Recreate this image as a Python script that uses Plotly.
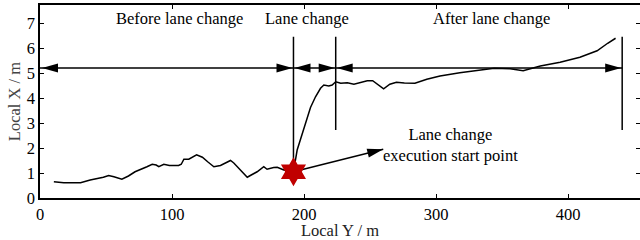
import math
import plotly.graph_objects as go

# Trajectory: Local Y (horizontal axis) and Local X (vertical axis)
local_y = [10.5, 18, 30.7, 38, 48, 52, 56, 62, 67, 72, 81, 85, 88, 90, 93.8, 98, 105, 107,
           109, 112.7, 118.6, 123, 127, 131.7, 136.7, 141, 144.3, 146.8, 151, 157, 160, 164.5,
           169.5, 172, 177, 179.7, 184.7, 192, 194.8, 199.8, 202.4, 204.9, 208.7, 212.5, 215,
           218.8, 221.3, 224, 227.8, 232.8, 237.8, 242.8, 247.9, 252, 256.7, 260.3, 265, 270,
           276, 284, 293, 303, 318, 334, 344, 356, 366, 379, 394, 409, 422, 430, 436]
local_x = [0.65, 0.61, 0.61, 0.72, 0.83, 0.9, 0.85, 0.75, 0.88, 1.05, 1.25, 1.35, 1.32, 1.25,
           1.35, 1.3, 1.3, 1.35, 1.55, 1.55, 1.73, 1.63, 1.45, 1.25, 1.3, 1.42, 1.5, 1.4, 1.15,
           0.83, 0.92, 1.05, 1.25, 1.15, 1.22, 1.23, 1.12, 1.05, 1.92, 2.72, 3.19, 3.62, 4.05,
           4.39, 4.52, 4.48, 4.52, 4.65, 4.59, 4.61, 4.55, 4.61, 4.69, 4.69, 4.52, 4.37, 4.55,
           4.63, 4.6, 4.59, 4.75, 4.88, 5.01, 5.12, 5.19, 5.17, 5.09, 5.28, 5.43, 5.63, 5.89,
           6.19, 6.39]

# Phase boundaries (Local Y) and labels
boundaries = [0, 192, 224, 441]
boundary_tops = [6.45, 6.45, 6.45]
boundary_bottoms = [1.05, 2.72, 2.72]
phase_labels = ["Before lane change", "Lane change", "After lane change"]
phase_label_pos = [106, 202, 342]
phase_label_y = 7.2
arrow_y = 5.2

# Lane change execution start point
start_point = (192, 1.05)
pointer_tip = (260, 1.95)
pointer_text = "Lane change<br>execution start point"
pointer_text_pos = (311, 2.12)

x_range = [0, 454.5]
y_range = [0, 7.72]

W, H = 640, 240
ML, MR, MT, MB = 40, 0, 5, 42
px_per_x = (W - ML - MR) / (x_range[1] - x_range[0])
px_per_y = (H - MT - MB) / (y_range[1] - y_range[0])

FONT = "Liberation Serif, Times New Roman, serif"
FS = 16.5

fig = go.Figure()
fig.add_trace(go.Scatter(x=local_y, y=local_x, mode="lines",
                         line=dict(color="black", width=1.5), hoverinfo="skip"))
fig.add_trace(go.Scatter(x=[start_point[0]], y=[start_point[1]], mode="markers",
                         marker=dict(symbol="hexagram", size=22, color="#c00000",
                                     line=dict(width=0)), hoverinfo="skip"))

shapes = []
HL, HW = 16, 4.5  # arrow head length / half-width in px


def head(xa, ya, angle, gap=1.0):
    c, s = math.cos(angle), math.sin(angle)
    tx, ty = -gap * c, -gap * s
    bx, by = tx - HL * c, ty - HL * s
    p1 = (bx - HW * s, by + HW * c)
    p2 = (bx + HW * s, by - HW * c)
    path = f"M{tx:.2f},{ty:.2f} L{p1[0]:.2f},{p1[1]:.2f} L{p2[0]:.2f},{p2[1]:.2f} Z"
    return dict(type="path", xsizemode="pixel", ysizemode="pixel", xanchor=xa, yanchor=ya,
                path=path, fillcolor="black", line=dict(width=0), layer="above")


for a, b in zip(boundaries[:-1], boundaries[1:]):
    shapes.append(dict(type="line", x0=a, x1=b, y0=arrow_y, y1=arrow_y,
                       line=dict(color="black", width=1.5), layer="above"))
    shapes.append(head(a, arrow_y, math.pi, gap=2.0 if a == 0 else 1.0))
    shapes.append(head(b, arrow_y, 0.0))

for bx, yt, yb in zip(boundaries[1:], boundary_tops, boundary_bottoms):
    shapes.append(dict(type="line", x0=bx, x1=bx, y0=yb, y1=yt,
                       line=dict(color="black", width=1.5), layer="below"))

# pointer arrow
shapes.append(dict(type="line", x0=start_point[0], y0=start_point[1], x1=pointer_tip[0],
                   y1=pointer_tip[1], line=dict(color="black", width=1.5), layer="below"))
ang = math.atan2((pointer_tip[1] - start_point[1]) * px_per_y,
                 (pointer_tip[0] - start_point[0]) * px_per_x)
shapes.append(head(pointer_tip[0], pointer_tip[1], ang, gap=0))

annotations = []
for lab, xp in zip(phase_labels, phase_label_pos):
    annotations.append(dict(x=xp, y=phase_label_y, text=lab, showarrow=False,
                            font=dict(family=FONT, size=FS, color="black")))
annotations.append(dict(x=pointer_text_pos[0], y=pointer_text_pos[1], text=pointer_text,
                        showarrow=False, font=dict(family=FONT, size=FS, color="black")))

axis_common = dict(showline=True, linecolor="black", linewidth=1.5, mirror="ticks",
                   ticks="inside", ticklen=4, tickwidth=1, tickcolor="black",
                   showgrid=False, zeroline=False, automargin=False,
                   tickfont=dict(family=FONT, size=FS, color="black"))

fig.update_layout(
    width=W, height=H, margin=dict(l=ML, r=MR, t=MT, b=MB),
    plot_bgcolor="white", paper_bgcolor="white", showlegend=False,
    shapes=shapes, annotations=annotations,
    xaxis=dict(range=x_range, dtick=100, tick0=0,
               title=dict(text="Local Y / m", font=dict(family=FONT, size=FS, color="#222"),
                          standoff=0), **axis_common),
    yaxis=dict(range=y_range, dtick=1, tick0=0,
               title=dict(text="Local X / m", font=dict(family=FONT, size=FS, color="#444"),
                          standoff=2), **axis_common),
)

fig.write_html("out.html", config={"displayModeBar": False},
               post_script="document.body.style.margin='0';document.body.style.overflow='hidden';")
